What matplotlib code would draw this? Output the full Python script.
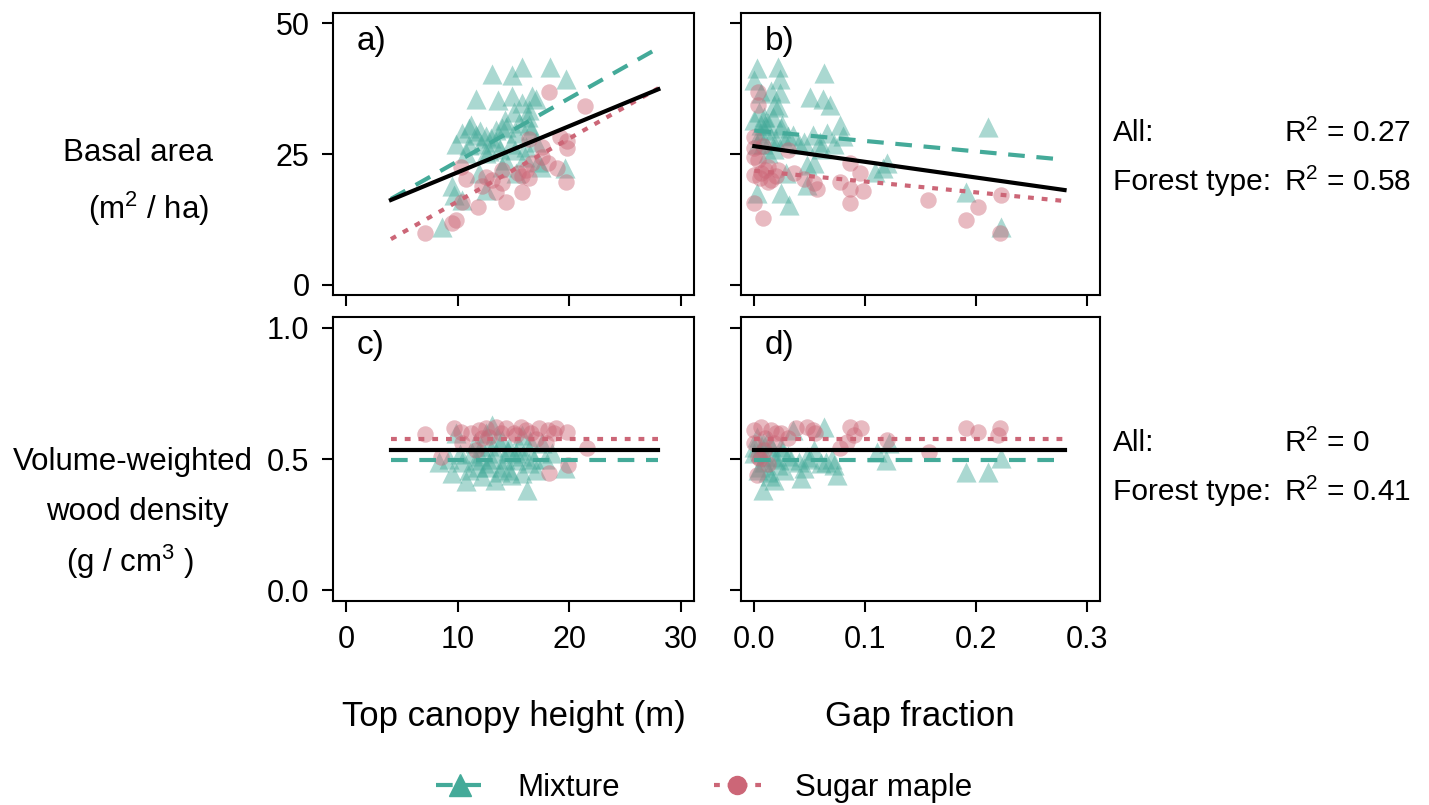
import matplotlib.pyplot as plt
from matplotlib.lines import Line2D

plt.rcParams['font.family'] = ['Liberation Sans', 'DejaVu Sans']
plt.rcParams['mathtext.fontset'] = 'custom'
plt.rcParams['mathtext.rm'] = 'Liberation Sans'

teal = '#44AA99'
rose = '#CC6677'

# panel a: top canopy height (m) vs basal area (m2/ha)
a_mix_x = [13.1, 15.8, 18.3, 14.9, 19.7, 11.6, 13.6, 14.9, 16.7, 15.8, 16.4, 11.2, 14.2, 14.3,
           10.4, 11.6, 12.5, 13.4, 15.2, 16.6, 9.8, 11.0, 12.1, 13.4, 14.8, 16.1, 17.0, 10.7,
           12.5, 14.2, 16.0, 17.2, 11.9, 14.0, 15.2, 17.5, 9.5, 12.5, 10.4, 9.7, 8.6, 19.6,
           16.4, 15.1, 12.0, 13.0, 14.0, 15.5, 16.3, 11.0, 13.8, 12.8, 15.0, 17.0]
a_mix_y = [40.4, 41.7, 41.7, 40.1, 39.4, 35.6, 35.3, 36.2, 36.2, 34.7, 33.4, 30.5, 31.5, 30.2,
           29.0, 28.7, 28.4, 29.6, 29.0, 29.6, 27.0, 26.8, 27.0, 27.3, 27.0, 26.4, 27.3, 25.1,
           25.1, 23.8, 24.5, 23.5, 21.3, 22.6, 21.3, 22.6, 18.8, 18.1, 16.2, 17.2, 11.1, 22.3,
           30.5, 25.8, 29.5, 28.0, 30.0, 31.0, 32.0, 30.0, 26.0, 25.5, 33.0, 35.5]
a_sm_x = [18.2, 21.4, 19.8, 19.8, 19.2, 17.6, 17.6, 16.4, 18.9, 19.7, 18.1, 16.1, 15.8, 16.4,
          15.4, 15.8, 14.3, 14.0, 13.4, 13.1, 12.5, 12.2, 10.7, 10.3, 11.8, 10.4, 9.8, 9.5,
          7.1, 14.0, 16.7]
a_sm_y = [36.9, 34.2, 27.4, 26.2, 28.3, 26.4, 24.5, 27.8, 22.4, 19.7, 23.2, 21.9, 20.7, 20.4,
          21.3, 17.8, 15.9, 19.4, 17.8, 20.0, 20.6, 18.8, 20.2, 22.6, 14.9, 15.8, 12.4, 11.8,
          9.9, 21.9, 23.2]

# panel b: gap fraction vs basal area
b_mix_x = [0.002, 0.021, 0.0, 0.023, 0.063, 0.006, 0.023, 0.050, 0.062, 0.068, 0.018, 0.0,
           0.006, 0.017, 0.009, 0.024, 0.035, 0.053, 0.066, 0.077, 0.045, 0.059, 0.072, 0.002,
           0.027, 0.211, 0.048, 0.054, 0.116, 0.120, 0.109, 0.048, 0.191, 0.002, 0.024, 0.031,
           0.223, 0.012, 0.029, 0.009, 0.005, 0.010, 0.015, 0.020, 0.008, 0.012, 0.004, 0.025,
           0.030, 0.018, 0.040, 0.060, 0.080, 0.021, 0.015]
b_mix_y = [41.4, 41.7, 39.1, 39.4, 40.6, 36.6, 36.6, 35.9, 35.6, 34.4, 34.4, 31.5, 30.5, 32.1,
           29.6, 29.9, 28.6, 28.6, 29.0, 30.5, 27.3, 27.3, 27.0, 27.0, 27.6, 30.2, 22.9, 23.2,
           22.3, 23.2, 21.6, 19.1, 17.8, 17.5, 17.5, 15.3, 11.1, 25.1, 21.3, 32.1, 29.0, 30.5,
           28.0, 27.5, 27.0, 31.0, 33.0, 30.5, 28.5, 26.0, 27.0, 26.0, 28.5, 34.0, 37.0]
b_sm_x = [0.003, 0.003, 0.0, 0.0, 0.003, 0.0, 0.006, 0.012, 0.021, 0.036, 0.0, 0.008, 0.054,
          0.057, 0.086, 0.095, 0.077, 0.086, 0.098, 0.086, 0.157, 0.202, 0.191, 0.223, 0.222,
          0.030, 0.012, 0.045, 0.005, 0.010, 0.0, 0.015, 0.008, 0.020]
b_sm_y = [36.9, 34.4, 28.3, 26.1, 23.8, 21.0, 21.3, 19.7, 21.9, 21.3, 15.7, 12.7, 19.5, 18.3,
          23.2, 21.3, 19.7, 18.3, 17.9, 15.7, 16.1, 14.9, 12.4, 17.2, 9.9, 25.8, 22.6, 20.3,
          20.5, 22.0, 24.5, 20.0, 26.5, 20.7]

# panel c: top canopy height vs wood density (g/cm3)
c_mix_x = [13.1, 9.8, 12.5, 15.8, 14.0, 12.1, 14.6, 16.4, 17.6, 18.5, 8.3, 10.4, 11.6, 12.8,
           14.0, 15.2, 16.4, 17.0, 9.5, 11.0, 12.2, 10.7, 13.3, 14.6, 16.2, 19.6, 13.4, 15.2,
           11.3, 15.8, 11.5, 12.8, 13.5, 14.5, 15.5, 16.8, 12.0, 13.0, 14.2, 15.8, 16.5, 12.5,
           14.8, 13.8, 11.8, 10.2, 17.8, 9.2]
c_mix_y = [0.629, 0.597, 0.597, 0.590, 0.572, 0.547, 0.547, 0.534, 0.559, 0.522, 0.490, 0.490,
           0.496, 0.484, 0.471, 0.496, 0.484, 0.459, 0.446, 0.459, 0.434, 0.415, 0.421, 0.459,
           0.383, 0.465, 0.522, 0.522, 0.522, 0.446, 0.560, 0.550, 0.580, 0.530, 0.550, 0.500,
           0.510, 0.500, 0.500, 0.510, 0.570, 0.470, 0.440, 0.450, 0.470, 0.520, 0.500, 0.500]
c_sm_x = [7.1, 9.7, 10.3, 11.9, 12.5, 13.4, 14.3, 15.7, 16.1, 17.3, 18.1, 18.8, 19.8, 8.5,
          10.4, 21.6, 18.2, 19.9, 12.8, 15.2, 17.0, 11.6, 11.2, 13.9, 16.6, 15.0, 12.2, 17.9,
          18.6]
c_sm_y = [0.595, 0.616, 0.604, 0.610, 0.616, 0.622, 0.616, 0.622, 0.610, 0.616, 0.610, 0.616,
          0.604, 0.509, 0.559, 0.540, 0.446, 0.477, 0.584, 0.590, 0.577, 0.534, 0.600, 0.600,
          0.600, 0.600, 0.580, 0.560, 0.600]

# panel d: gap fraction vs wood density
d_mix_x = [0.002, 0.012, 0.035, 0.063, 0.024, 0.0, 0.009, 0.021, 0.003, 0.014, 0.008, 0.033,
           0.048, 0.045, 0.042, 0.060, 0.072, 0.075, 0.054, 0.111, 0.119, 0.122, 0.191, 0.211,
           0.223, 0.0, 0.017, 0.027, 0.005, 0.010, 0.015, 0.020, 0.005, 0.012, 0.025, 0.030,
           0.018, 0.008, 0.040, 0.050, 0.065, 0.070]
d_mix_y = [0.584, 0.572, 0.610, 0.622, 0.547, 0.522, 0.490, 0.477, 0.459, 0.434, 0.383, 0.496,
           0.509, 0.465, 0.427, 0.484, 0.477, 0.439, 0.534, 0.528, 0.496, 0.559, 0.452, 0.452,
           0.502, 0.547, 0.509, 0.459, 0.530, 0.510, 0.550, 0.500, 0.470, 0.450, 0.530, 0.510,
           0.420, 0.560, 0.490, 0.500, 0.490, 0.500]
d_sm_x = [0.0, 0.006, 0.015, 0.024, 0.038, 0.048, 0.053, 0.086, 0.096, 0.090, 0.084, 0.077,
          0.120, 0.158, 0.191, 0.202, 0.222, 0.220, 0.0, 0.002, 0.003, 0.009, 0.018, 0.010,
          0.020, 0.005, 0.012, 0.030, 0.055]
d_sm_y = [0.610, 0.622, 0.610, 0.597, 0.616, 0.622, 0.610, 0.622, 0.616, 0.590, 0.565, 0.540,
          0.572, 0.528, 0.616, 0.604, 0.616, 0.590, 0.559, 0.439, 0.509, 0.534, 0.559, 0.580,
          0.600, 0.500, 0.480, 0.580, 0.600]

# fitted lines (end points): all plots, mixture, sugar maple
height_ends = [4, 28]
gap_ends = [0, 0.28]
a_fit_all = [16.2, 37.4]
a_fit_mix = [16.4, 45.3]
a_fit_sm = [8.7, 37.6]
b_fit_all = [26.5, 18.1]
b_fit_mix = [29.5, 23.9]
b_fit_sm = [21.8, 16.0]
wd_fit_all = [0.533, 0.533]
wd_fit_mix = [0.496, 0.496]
wd_fit_sm = [0.576, 0.576]

fig = plt.figure(figsize=(14.29, 8.05), dpi=100)
W, H = 1429, 805


def add_panel(left, top, right, bottom):
    return fig.add_axes([left / W, 1 - bottom / H, (right - left) / W, (bottom - top) / H])


ax_a = add_panel(333, 13, 694, 295)
ax_b = add_panel(741, 13, 1100, 295)
ax_c = add_panel(333, 317, 694, 601)
ax_d = add_panel(741, 317, 1100, 601)

panels = [
    (ax_a, a_mix_x, a_mix_y, a_sm_x, a_sm_y, height_ends, a_fit_all, a_fit_mix, a_fit_sm, 'a)'),
    (ax_b, b_mix_x, b_mix_y, b_sm_x, b_sm_y, gap_ends, b_fit_all, b_fit_mix, b_fit_sm, 'b)'),
    (ax_c, c_mix_x, c_mix_y, c_sm_x, c_sm_y, height_ends, wd_fit_all, wd_fit_mix, wd_fit_sm, 'c)'),
    (ax_d, d_mix_x, d_mix_y, d_sm_x, d_sm_y, gap_ends, wd_fit_all, wd_fit_mix, wd_fit_sm, 'd)'),
]

dash = (0, (4, 2.8))
dot = (0, (1.4, 1.9))

for ax, mx, my, sx, sy, ends, f_all, f_mix, f_sm, letter in panels:
    ax.scatter(mx, my, marker='^', s=210, color=teal, alpha=0.45, linewidths=0, zorder=2)
    ax.scatter(sx, sy, marker='o', s=140, color=rose, alpha=0.45, linewidths=0, zorder=2)
    ax.plot(ends, f_mix, color=teal, lw=3, ls=dash, zorder=3)
    ax.plot(ends, f_sm, color=rose, lw=3, ls=dot, zorder=3)
    ax.plot(ends, f_all, color='black', lw=3, zorder=4)
    ax.text(0.066, 0.9, letter, transform=ax.transAxes, fontsize=24, va='center', ha='left')
    for sp in ax.spines.values():
        sp.set_linewidth(1.5)
    ax.tick_params(direction='out', length=8, width=1.5, labelsize=22, pad=9)

for ax in (ax_a, ax_c):
    ax.set_xlim(-1.2, 31.2)
    ax.set_xticks([0, 10, 20, 30])
for ax in (ax_b, ax_d):
    ax.set_xlim(-0.012, 0.312)
    ax.set_xticks([0.0, 0.1, 0.2, 0.3])
    ax.set_xticklabels(['0.0', '0.1', '0.2', '0.3'])
for ax in (ax_a, ax_b):
    ax.set_ylim(-2, 52)
    ax.set_yticks([0, 25, 50])
    ax.tick_params(labelbottom=False)
for ax in (ax_c, ax_d):
    ax.set_ylim(-0.04, 1.04)
    ax.set_yticks([0.0, 0.5, 1.0])
    ax.set_yticklabels(['0.0', '0.5', '1.0'])
for ax in (ax_b, ax_d):
    ax.tick_params(labelleft=False)


def ftext(x, y, s, **kw):
    fig.text(x / W, 1 - y / H, s, va='center', **kw)


ftext(138, 153, 'Basal area', ha='center', fontsize=22.5)
ftext(149, 209, r'($\mathregular{m^2}$ / ha)', ha='center', fontsize=22.5)
ftext(133, 462, 'Volume-weighted', ha='center', fontsize=22.5)
ftext(137, 512, 'wood density', ha='center', fontsize=22.5)
ftext(130, 562, r'(g / $\mathregular{cm^3}$ )', ha='center', fontsize=22.5)

ftext(514, 716, 'Top canopy height (m)', ha='center', fontsize=25)
ftext(920, 716, 'Gap fraction', ha='center', fontsize=25)

for y0, r_all, r_ft in [(133, '0.27', '0.58'), (443, '0', '0.41')]:
    ftext(1113, y0, 'All:', ha='left', fontsize=21.5)
    ftext(1284, y0, r'$\mathregular{R^2}$ = ' + r_all, ha='left', fontsize=21.5)
    ftext(1113, y0 + 49, 'Forest type:', ha='left', fontsize=21.5)
    ftext(1284, y0 + 49, r'$\mathregular{R^2}$ = ' + r_ft, ha='left', fontsize=21.5)

handles = [
    Line2D([], [], color=teal, lw=3, ls=dash, marker='^', ms=16),
    Line2D([], [], color=rose, lw=3, ls=dot, marker='o', ms=13),
]
fig.legend(handles, ['Mixture', 'Sugar maple'], loc='center', bbox_to_anchor=(0.493, 0.021),
           ncol=2, frameon=False, fontsize=22.5, handlelength=1.5, handletextpad=1.1,
           columnspacing=3.0)

fig.savefig('out.png', dpi=100)
